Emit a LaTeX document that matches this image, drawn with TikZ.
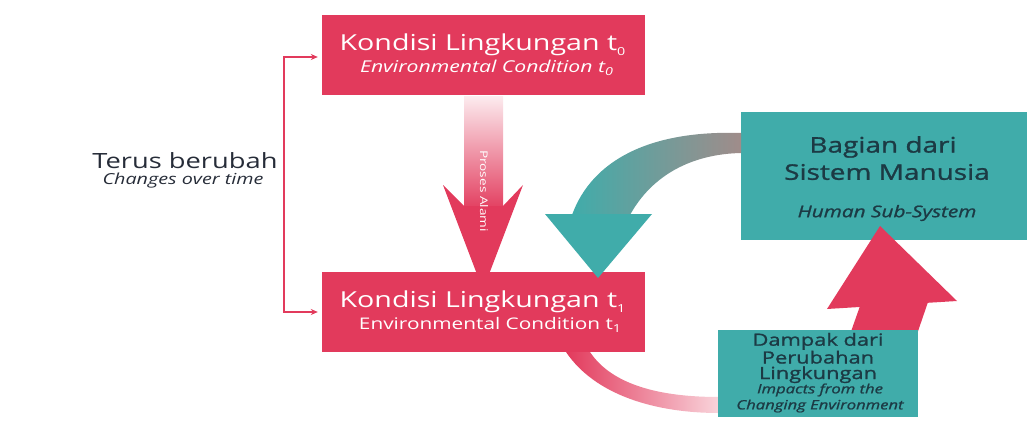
\documentclass[tikz,border=0pt]{standalone}
\usepackage{fontspec}
\setmainfont{Open Sans}
\newfontfamily\wideA{Open Sans}[FakeStretch=1.3]
\newfontfamily\wideBb{Open Sans}[FakeStretch=1.3,FakeBold=1.2]
\usetikzlibrary{arrows.meta,calc}
\definecolor{crim}{HTML}{E23A5C}
\definecolor{tealb}{HTML}{40ACAA}
\definecolor{dtext}{HTML}{1C3A44}
\definecolor{greyb}{HTML}{A08C8A}
\definecolor{ltext}{HTML}{262C38}
\newcommand\lowidx[1]{\raisebox{-0.4ex}{\fontsize{11}{11}\selectfont #1}}
\begin{document}
\begin{tikzpicture}[x=1pt,y=-1pt,
  rbox/.style={fill=crim,draw=none,inner sep=0pt},
  tbox/.style={fill=tealb,draw=none,inner sep=0pt},
  ttl/.style={text=white,inner sep=0pt,font=\wideA\fontsize{22}{24}\selectfont},
  sttl/.style={text=white,inner sep=0pt,font=\wideA\fontsize{16}{18}\selectfont},
  dtl/.style={text=dtext,inner sep=0pt,font=\wideBb\fontsize{21.5}{24}\selectfont},
  brk/.style={draw=crim,line width=1.6pt,line join=miter,{Stealth[length=7pt,width=6pt]}-{Stealth[length=7pt,width=6pt]},shorten <=4pt,shorten >=4pt},
]
\useasboundingbox (0,0) rectangle (1027,442);

% boxes
\node[rbox,minimum width=323pt,minimum height=80pt] (k0) at (483.5,55) {};
\node[rbox,minimum width=323pt,minimum height=80pt] (k1) at (483.5,312) {};
\node[tbox,minimum width=286pt,minimum height=128pt] (hs) at (884,176) {};

% texts in red boxes
\node[ttl] (k0a) at (482.5,45) {Kondisi Lingkungan t\lowidx{0}};
\node[sttl,font=\wideA\fontsize{16.3}{18}\selectfont\itshape] (k0b) at (486.5,68) {Environmental Condition t\lowidx{0}};
\node[ttl] (k1a) at (482.5,302) {Kondisi Lingkungan t\lowidx{1}};
\node[sttl] (k1b) at (490,325) {Environmental Condition t\lowidx{1}};

% human sub-system text
\node[dtl] (hsa) at (883,147) {Bagian dari};
\node[dtl] (hsb) at (887,172) {Sistem Manusia};
\node[text=dtext,inner sep=0pt,font=\wideBb\fontsize{16}{18}\selectfont\itshape] (hsc) at (887,213) {Human Sub-System};

% left label
\node[text=ltext,inner sep=0pt,font=\wideA\fontsize{21}{24}\selectfont] (tb) at (185,161) {Terus berubah};
\node[text=ltext,inner sep=0pt,font=\wideA\fontsize{15.2}{18}\selectfont\itshape] (cot) at (183,181) {Changes over time};

% bracket
\coordinate (bt) at (284,57);
\coordinate (bb) at (284,312);
\draw[brk] (bt -| k0.west) -- (bt) -- (bb) -- (bb -| k1.west);

% Proses Alami arrow
\shade[top color=crim!10,middle color=crim!85,bottom color=crim] (464,96) rectangle (503,212);
\fill[crim] (464,206) -- (443,185) -- (483,290) -- (523,185) -- (503,206) -- cycle;
\node[text=white,inner sep=0pt,rotate=-90,font=\wideA\fontsize{10.5}{12}\selectfont] (pa) at (484,191) {Proses Alami};

% red curve from k1 to impacts box
\shade[left color=crim,right color=crim!22]
  (566,352) .. controls (595,395) and (655,413) .. (719,413)
  -- (719,397) .. controls (660,397) and (612,385) .. (590,352) -- cycle;

% red upward arrow (shaft then box then head)
\fill[crim] (848,340) -- (860,306) -- (928,302) -- (915,340) -- cycle;

% impacts box
\node[tbox,minimum width=200pt,minimum height=87pt] (im) at (818,373.5) {};
\node[text=dtext,inner sep=0pt,align=center,font=\wideBb\fontsize{16.8}{15.5}\selectfont] (ima) at (818,358) {Dampak dari\\Perubahan\\Lingkungan};
\node[text=dtext,inner sep=0pt,align=center,font=\wideBb\fontsize{12.8}{16}\selectfont\itshape] (imb) at (820,398) {Impacts from the\\Changing Environment};

\fill[crim] (827,309) -- (957,301) -- (880,226) -- cycle;

% teal curved arrow
\shade[left color=tealb,right color=greyb]
  (741,133) .. controls (650,130) and (592,160) .. (572,215)
  -- (630,215) .. controls (652,175) and (692,154) .. (741,153) -- cycle;
\fill[tealb] (545,214) -- (652,214) -- (598,278) -- cycle;
\end{tikzpicture}
\end{document}
